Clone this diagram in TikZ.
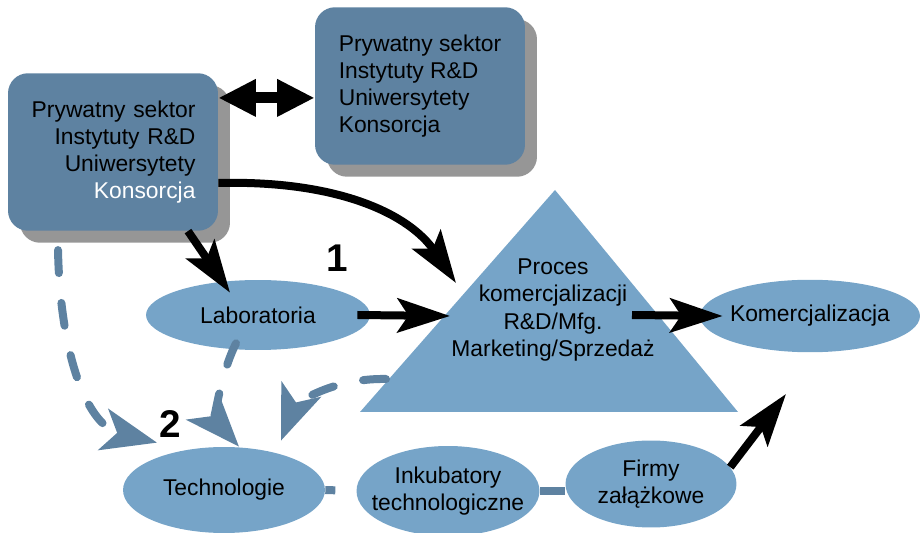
\documentclass[tikz,border=0pt]{standalone}
\usepackage{fontspec}
\setmainfont{Liberation Sans}
\usetikzlibrary{arrows.meta, shapes.geometric, shadows}
\definecolor{boxblue}{RGB}{94,130,161}
\definecolor{ovalblue}{RGB}{118,164,200}
\definecolor{shadowgray}{RGB}{150,150,150}
\tikzset{
	diagram/.cd,
	box/.style = {
		rectangle,
		rounded corners = 0.4cm,
		fill = boxblue,
		drop shadow = {shadow xshift = 0.24cm, shadow yshift = -0.24cm, fill = shadowgray, opacity = 1},
		minimum width = 4.2cm,
		minimum height = 3.15cm,
		inner sep = 0pt,
		font = \fontsize{13}{15.4}\selectfont
	},
	oval/.style = {
		ellipse,
		fill = ovalblue,
		inner sep = 0pt,
		align = center,
		font = \fontsize{13}{15.4}\selectfont
	},
	flow/.style = {
		line width = 0.16cm,
		-{Stealth[length = 1.05cm, width = 0.68cm, inset = 0.22cm]}
	},
	feedback/.style = {
		boxblue,
		line width = 0.16cm,
		line cap = round,
		dash pattern = on 0.46cm off 0.6cm,
		-{Stealth[length = 1.1cm, width = 0.84cm, inset = 0.28cm]}
	},
	link/.style = {
		boxblue,
		line width = 0.16cm
	},
}

\begin{document}
\begin{tikzpicture}[
		x = 0.02cm, y = -0.02cm,
		number/.style = {
			font = \fontsize{22}{26}\selectfont\bfseries
		}]
		\useasboundingbox (0, 0) rectangle (920, 533);
		\coordinate (apex) at (555, 190);
		\coordinate (base left) at (360, 412);
		\coordinate (base right) at (738, 412);
		\coordinate (proc top) at (456, 283);
		\coordinate (proc in) at (450, 316);
		\coordinate (proc out) at (632, 315);
		\coordinate (proc back) at (386, 379);
		\coordinate (growth) at (786, 394);
		\node[diagram/oval, minimum width = 4.48cm, minimum height = 1.4cm] (lab) at (258, 315) {Laboratoria};
		\node[diagram/oval, minimum width = 4.04cm, minimum height = 1.72cm] (tech) at (224, 490) {Technologie};
		\node[diagram/oval, minimum width = 3.66cm, minimum height = 1.8cm, inner xsep = -0.24cm] (ink) at (448, 491) {Inkubatory\\technologiczne};
		\node[diagram/oval, minimum width = 3.42cm, minimum height = 1.74cm] (seed) at (651, 484) {Firmy\\załążkowe};
		\node[diagram/oval, minimum width = 4.4cm, minimum height = 1.45cm, inner xsep = -0.05cm] (market) at (810, 316) {Komercjalizacja};
		\node[diagram/box, align = right, text width = 3.3cm] (sector left) at (113, 152) {Prywatny sektor\\Instytuty R\&D\\Uniwersytety\\\textcolor{white}{Konsorcja}};
		\node[diagram/box, align = left] (sector right) at (420, 86) {Prywatny sektor\\Instytuty R\&D\\Uniwersytety\\Konsorcja};
		\fill[ovalblue] (apex) -- (base right) -- (base left) -- cycle;
		\node[align = center, font = \fontsize{13}{15.4}\selectfont] (proces) at (553, 310) {Proces\\komercjalizacji\\R\&D/Mfg.\\Marketing/Sprzedaż};
		\draw[line width = 0.22cm, {Triangle[length = 0.75cm, width = 0.7cm]}-{Triangle[length = 0.75cm, width = 0.7cm]}] ([yshift = -0.5cm]sector left.north east) -- ([yshift = -0.5cm]sector left.north east -| sector right.west);
		\draw[diagram/flow] ([xshift = 1.5cm]sector left.south) -- ([xshift = -0.56cm, yshift = -0.26cm]lab.north);
		\draw[diagram/flow] ([yshift = -0.62cm]sector left.east) .. controls (340, 180) and (410, 215) .. (proc top);
		\draw[diagram/flow] ([xshift = -0.26cm]lab.east) -- (proc in);
		\draw[diagram/flow] (proc out) -- ([xshift = 0.46cm]market.west);
		\draw[diagram/flow] (seed.12) -- (growth);
		\draw[diagram/feedback] ([xshift = -1.1cm, yshift = -0.38cm]sector left.south) .. controls (60, 350) and (85, 425) .. ([xshift = -1.34cm, yshift = 0.08cm]tech.north);
		\draw[diagram/feedback] ([xshift = -0.44cm, yshift = 0.14cm]lab.south) .. controls (220, 375) and (215, 420) .. ([xshift = 0.3cm]tech.north);
		\draw[diagram/feedback] (proc back) .. controls (330, 378) and (295, 405) .. ([xshift = 1.14cm, yshift = 0.12cm]tech.north);
		\draw[diagram/link, dash pattern = on 0.2cm off 2cm] (tech.east) -- (ink.west);
		\draw[diagram/link] (ink.east) -- (ink.east -| seed.west);
		\node[number] (one) at (337, 258) {1};
		\node[number] (two) at (170, 424) {2};
	\end{tikzpicture}
\end{document}
